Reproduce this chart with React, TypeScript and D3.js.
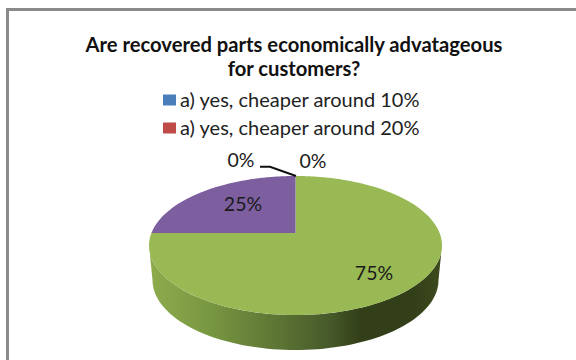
import React from "react";
import * as d3 from "d3";

const titleLines = ["Are recovered parts economically advatageous", "for customers?"];
const legendLabels = ["a) yes, cheaper around 10%", "a) yes, cheaper around 20%"];
const legendColors = ["#4a7ebb", "#be4b48"];
const sliceValues = [0, 0, 75, 25];
const sliceColors = ["#4a7ebb", "#be4b48", "#98b954", "#7d5fa0"];
const wallStops: [number, string][] = [
  [0, "#8eab4d"],
  [0.2, "#799842"],
  [0.45, "#5b7333"],
  [0.62, "#46592a"],
  [0.72, "#333f18"],
  [0.9, "#333f18"],
  [1, "#3d4b1e"],
];

const FONT = "Lato, 'Noto Sans', sans-serif";
const W = 576;
const H = 360;

// Tilted disc: the top face is an ellipse whose apex sits above its centre.
const top = { cx: 295.5, cy: 245.5, rx: 146.5, ry: 69.5 };
const apex = { x: 295.5, y: 233 };
const base = { cx: 295.5, cy: 280, rx: 143, ry: 70 };

// Where a ray leaving the apex at a pie angle meets the top ellipse.
function rim(angle: number): [number, number] {
  const ux = Math.sin(angle) / top.rx;
  const uy = -Math.cos(angle) / top.ry;
  const oy = (apex.y - top.cy) / top.ry;
  const ox = (apex.x - top.cx) / top.rx;
  const a = ux * ux + uy * uy;
  const b = 2 * (ox * ux + oy * uy);
  const c = ox * ox + oy * oy - 1;
  const t = (-b + Math.sqrt(b * b - 4 * a * c)) / (2 * a);
  return [apex.x + Math.sin(angle) * t, apex.y - Math.cos(angle) * t];
}

const line = d3.line<[number, number]>();
const arcs = d3.pie<number>().sort(null)(sliceValues);

function slicePath(start: number, end: number): string {
  const n = Math.max(2, Math.ceil((end - start) * 40));
  const pts = d3.range(n + 1).map((i) => rim(start + ((end - start) * i) / n));
  return line([[apex.x, apex.y], ...pts])! + "Z";
}

// Side wall: lower half of the top ellipse, then back along the base curve.
function wallPath(): string {
  const steps = d3.range(0, 81).map((i) => (Math.PI * i) / 80);
  const upper = steps.map((a): [number, number] => [
    top.cx + top.rx * Math.cos(a),
    top.cy + top.ry * Math.sin(a),
  ]);
  const lower = steps
    .slice()
    .reverse()
    .map((a): [number, number] => [
      base.cx + base.rx * Math.cos(a),
      base.cy + base.ry * Math.sin(a),
    ]);
  return line([...upper, ...lower])! + "Z";
}

const legendY = d3.scalePoint<string>().domain(legendLabels).range([100, 128]);

// Labels for the two largest slices and the two zero slices.
const valueLabels = [
  { value: sliceValues[0], x: 241, y: 167 },
  { value: sliceValues[1], x: 313, y: 168 },
  { value: sliceValues[2], x: 374, y: 280 },
  { value: sliceValues[3], x: 243, y: 211 },
];

export default function App() {
  return (
    <svg
      width={W}
      height={H}
      viewBox={`0 0 ${W} ${H}`}
      style={{ position: "fixed", left: 0, top: 0, background: "#fff" }}
    >
      <defs>
        <linearGradient id="wall" x1={top.cx - top.rx} x2={top.cx + top.rx} y1={0} y2={0} gradientUnits="userSpaceOnUse">
          {wallStops.map(([o, c]) => (
            <stop key={o} offset={o} stopColor={c} />
          ))}
        </linearGradient>
      </defs>

      {/* chart frame, running off the right and bottom edges */}
      <rect x={7.5} y={9.5} width={W} height={H} fill="none" stroke="#8a8a8a" strokeWidth={3} />

      {titleLines.map((t, i) => (
        <text key={t} x={294} y={52 + i * 24} textAnchor="middle" fontFamily={FONT} fontWeight={700} fontSize={20.2} fill="#111">
          {t}
        </text>
      ))}

      {legendLabels.map((t, i) => {
        const y = legendY(t)!;
        return (
          <g key={t}>
            <rect x={163} y={y - 5.5} width={13} height={11} fill={legendColors[i]} />
            <text x={180} y={y + 7} fontFamily={FONT} fontSize={20} fill="#222">
              {t}
            </text>
          </g>
        );
      })}

      <path d={wallPath()} fill="url(#wall)" />
      {arcs.map((a, i) =>
        a.value > 0 ? <path key={i} d={slicePath(a.startAngle, a.endAngle)} fill={sliceColors[i]} /> : null
      )}

      <path d={line([[260, 166.7], [270, 166.7], [296, 176]])!} fill="none" stroke="#111" strokeWidth={2} />

      {valueLabels.map((l, i) => (
        <text key={i} x={l.x} y={l.y} textAnchor="middle" fontFamily={FONT} fontSize={19.5} fill="#1a1a1a">
          {l.value}%
        </text>
      ))}
    </svg>
  );
}
